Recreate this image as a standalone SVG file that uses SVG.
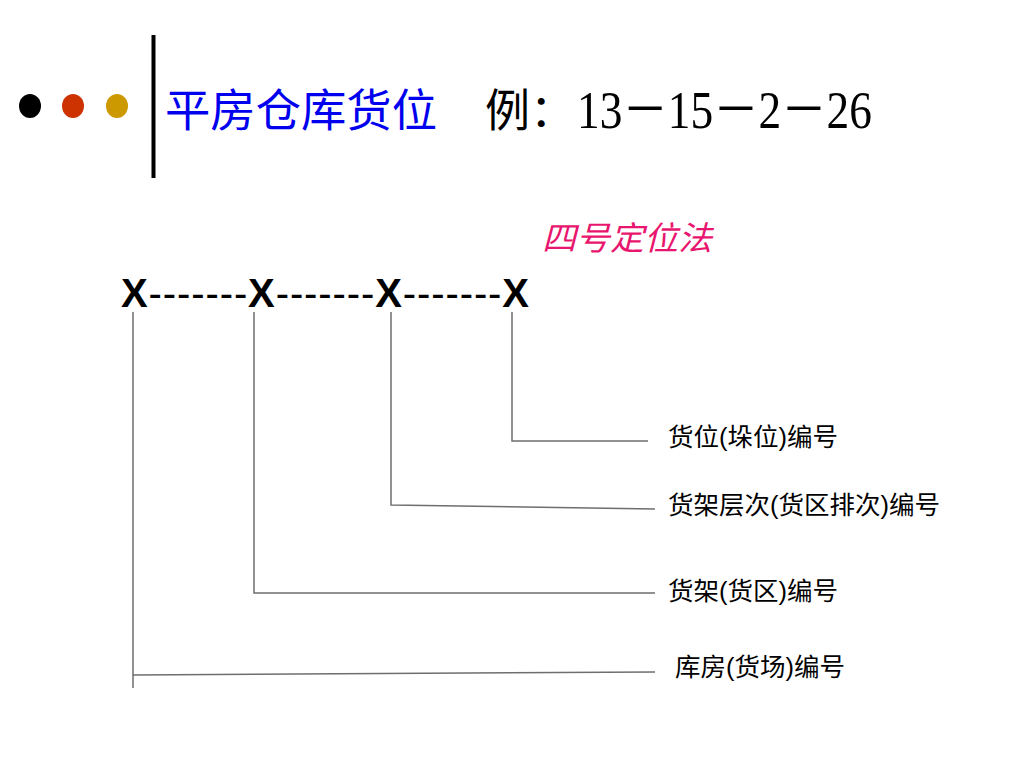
<svg xmlns="http://www.w3.org/2000/svg" width="1024" height="768" viewBox="0 0 1024 768">
<style>
.lbl{font-family:"Liberation Sans","Noto Sans CJK SC",sans-serif;font-size:25px;fill:#000}
.conn{stroke:#6e6e6e;stroke-width:1.5;fill:none}
.x{font-weight:bold}
.d{font-weight:normal}
</style>
<rect width="1024" height="768" fill="#fff"/>
<g id="header">
<ellipse cx="30" cy="106" rx="11" ry="12" fill="#000"/>
<ellipse cx="73" cy="106" rx="11" ry="12" fill="#cc3300"/>
<ellipse cx="117" cy="106" rx="11" ry="12" fill="#cc9900"/>
<line x1="153.5" y1="35" x2="153.5" y2="178" stroke="#000" stroke-width="4"/>
<text x="165" y="127" font-family="Noto Sans CJK SC,sans-serif" font-size="45" fill="#0000ee" textLength="272" lengthAdjust="spacingAndGlyphs">平房仓库货位</text>
<text x="485" y="127" font-family="Noto Sans CJK SC,sans-serif" font-size="45" fill="#000">例：</text>
<text x="577" y="128" font-family="Liberation Serif,Noto Sans CJK SC,serif" font-size="52" fill="#000" textLength="295" lengthAdjust="spacingAndGlyphs">13－15－2－26</text>
</g>
<g id="method">
<text x="542" y="250" font-family="Noto Sans CJK SC,sans-serif" font-size="33" font-style="italic" fill="#e8166e" textLength="170" lengthAdjust="spacingAndGlyphs">四号定位法</text>
</g>
<g id="code">
<text x="121" y="307" font-family="Liberation Sans,Arial,sans-serif" font-size="40" fill="#000" textLength="408" lengthAdjust="spacing"><tspan class="x">X</tspan><tspan class="d">-------</tspan><tspan class="x">X</tspan><tspan class="d">-------</tspan><tspan class="x">X</tspan><tspan class="d">-------</tspan><tspan class="x">X</tspan></text>
</g>
<g id="connectors">
<polyline class="conn" points="512,312 512,441 648,441"/>
<polyline class="conn" points="391,312 391,505 655,509"/>
<polyline class="conn" points="254,312 254,593 655,593"/>
<polyline class="conn" points="133,312 133,688"/>
<line class="conn" x1="133" y1="675" x2="655" y2="672"/>
</g>
<g id="n4"><text class="lbl" x="668" y="446" textLength="170" lengthAdjust="spacingAndGlyphs">货位(垛位)编号</text></g>
<g id="n3"><text class="lbl" x="668" y="514" textLength="272" lengthAdjust="spacingAndGlyphs">货架层次(货区排次)编号</text></g>
<g id="n2"><text class="lbl" x="668" y="600" textLength="170" lengthAdjust="spacingAndGlyphs">货架(货区)编号</text></g>
<g id="n1"><text class="lbl" x="675" y="676" textLength="170" lengthAdjust="spacingAndGlyphs">库房(货场)编号</text></g>
</svg>
